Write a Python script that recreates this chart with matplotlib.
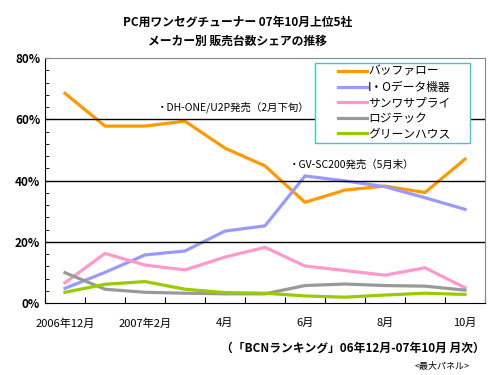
import numpy as np
import matplotlib
matplotlib.use("Agg")
import matplotlib.pyplot as plt
from matplotlib.patches import Rectangle

plt.rcParams['font.family'] = ['Noto Sans CJK JP', 'DejaVu Sans']

# monthly share data, Dec 2006 - Oct 2007
months = ["2006年12月", "", "2007年2月", "", "4月", "", "6月", "", "8月", "", "10月"]
buffalo = [68.5, 57.8, 57.8, 59.4, 50.6, 44.8, 32.9, 36.9, 38.2, 36.1, 47.0]
iodata = [4.8, 10.0, 15.7, 17.0, 23.5, 25.2, 41.5, 39.9, 38.0, 34.4, 30.6]
sanwa = [6.6, 16.2, 12.4, 10.8, 15.0, 18.2, 12.1, 10.6, 9.1, 11.5, 5.0]
logitec = [9.9, 4.5, 3.5, 3.2, 3.0, 3.0, 5.7, 6.2, 5.7, 5.5, 4.2]
greenhouse = [3.5, 6.1, 7.0, 4.5, 3.4, 3.2, 2.3, 1.9, 2.6, 3.2, 2.8]
names = ["バッファロー", "I・Oデータ機器", "サンワサプライ", "ロジテック", "グリーンハウス"]
colors = ["#FF9900", "#9999FF", "#FF99CC", "#999999", "#99CC00"]

fig = plt.figure(figsize=(5, 3.75), dpi=100)
ax = fig.add_axes([0.09, 0.192, 0.88, 0.653])

x = np.arange(len(months))
series = [buffalo, iodata, sanwa, logitec, greenhouse]
for vals, name, c in zip(series, names, colors):
    ax.plot(x, vals, color=c, lw=2.3, label=name)

ax.set_xlim(-0.5, len(months) - 0.5)
ax.set_ylim(0, 80)
ax.set_yticks([0, 20, 40, 60, 80])
ax.set_yticklabels(["0%", "20%", "40%", "60%", "80%"], fontweight='bold', fontsize=8.5)
ax.set_yticks(np.arange(0, 81, 4), minor=True)
ax.set_xticks(np.arange(-0.5, len(months), 1))
ax.set_xticklabels([])
ax.set_xticks(x, minor=True)
ax.set_xticklabels(months, minor=True, fontsize=8)
ax.tick_params(axis='x', which='major', direction='in', length=4)
ax.tick_params(axis='x', which='minor', length=0, pad=11)
ax.tick_params(axis='y', which='both', direction='in', length=3)
for yv in [20, 40, 60]:
    ax.axhline(yv, color='black', lw=1)
ax.spines['top'].set_color('#888888')
ax.spines['right'].set_color('#888888')

ax.text(2.3, 63, "・DH-ONE/U2P発売（2月下旬）", fontsize=7.5)
ax.text(5.6, 44.2, "・GV-SC200発売（5月末）", fontsize=7.5)

# legend box
box = Rectangle((0.63, 0.619), 0.31, 0.213, transform=fig.transFigure,
                facecolor='white', edgecolor='#33CCCC', lw=1, zorder=3)
ax.add_artist(box)
leg = ax.legend(loc='upper left', bbox_to_anchor=(0.665, 0.842),
                bbox_transform=fig.transFigure, fontsize=8.5,
                handlelength=2.4, handletextpad=0.1, labelspacing=0.22,
                frameon=False, borderpad=0)
leg.set_zorder(4)

fig.text(0.475, 0.933, "PC用ワンセグチューナー 07年10月上位5社", ha='center',
         fontsize=8.5, fontweight='bold')
fig.text(0.475, 0.88, "メーカー別 販売台数シェアの推移", ha='center',
         fontsize=8.5, fontweight='bold')
fig.text(0.97, 0.063, "（「BCNランキング」06年12月-07年10月 月次）", ha='right',
         fontsize=8.5, fontweight='bold')
fig.text(0.94, 0.015, "<最大パネル>", ha='right', fontsize=6.5)

fig.savefig("out.png", dpi=100)
